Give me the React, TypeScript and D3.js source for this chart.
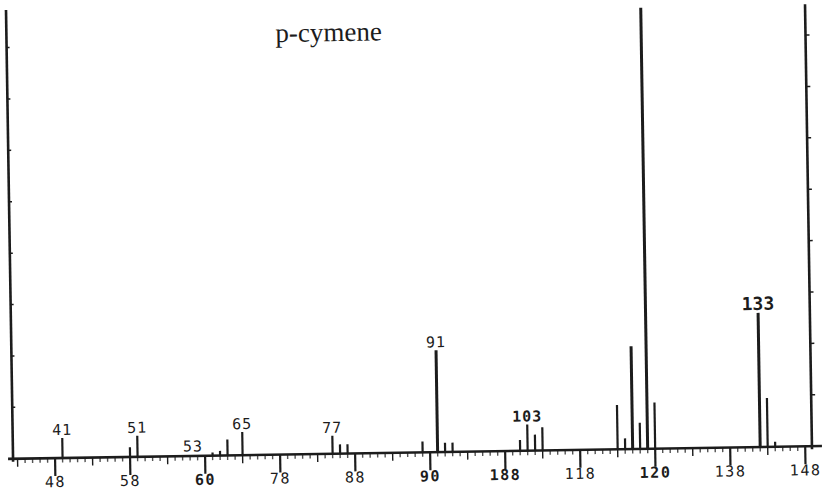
import React from "react";
import * as d3 from "d3";

// ---- data ----
const title = "p-cymene";
const mzValues = [41, 50, 51, 61, 62, 63, 65, 77, 78, 79, 89, 91, 92, 93, 102, 103, 104, 105, 115, 116, 117, 118, 119, 120, 134, 135, 136];
const intensities = [3.9, 1.9, 4.1, 0.6, 0.9, 3.1, 4.5, 3.5, 1.8, 1.8, 2.1, 19.8, 1.8, 1.8, 2.1, 5.1, 3.1, 4.5, 8.6, 2.1, 20.0, 5.1, 85.8, 9.0, 26.1, 9.5, 1.0];

const labelTexts = ["41", "51", "53", "65", "77", "91", "103", "133"];
const labelMz = [41, 51, 58.4, 65, 77, 91, 103, 134];
const labelLevels = [3.9, 4.1, 0.3, 4.5, 3.5, 19.8, 5.1, 26.1];

const tickValues = [40, 50, 60, 70, 80, 90, 100, 110, 120, 130, 140];
const tickLabels = ["48", "58", "60", "78", "88", "90", "188", "118", "120", "138", "148"];
const yTickValues = [10, 20, 30, 40, 50, 60, 70, 80];

const W = 836;
const H = 494;
const INK = "#1c1c1c";

export default function App() {
  const x = d3.scaleLinear().domain([34.4, 140.9]).range([13, 812]);
  const y = d3.scaleLinear().domain([0, 10]).range([452.5, 401.1]);
  const base = y(0);
  const leftTop = y(87.3);
  const rightTop = y(86.0);
  const minorTicks = d3.range(35, 141, 1);
  const boldTicks = new Set([60, 90, 100, 120]);

  return (
    <svg
      width={W}
      height={H}
      viewBox={`0 0 ${W} ${H}`}
      style={{ position: "fixed", left: 0, top: 0, background: "#fff" }}
    >
      <rect x={0} y={0} width={W} height={H} fill="#fff" />
      <g transform={`rotate(-0.9, 412, ${base})`}>
        <text x={282} y={40} fontFamily="'Liberation Serif', 'Times New Roman', serif" fontSize={27} fill={INK}>
          {title}
        </text>
        {/* left axis */}
        <line x1={x(34.4)} x2={x(34.4)} y1={leftTop} y2={base + 3} stroke={INK} strokeWidth={2.6} />
        {yTickValues.map((v) => (
          <line key={"l" + v} x1={x(34.4)} x2={x(34.4) + 3} y1={y(v)} y2={y(v)} stroke={INK} strokeWidth={1.5} />
        ))}
        {/* right axis */}
        <line x1={x(140.9)} x2={x(140.9)} y1={rightTop} y2={base + 3} stroke={INK} strokeWidth={2.6} />
        {yTickValues.map((v) => (
          <line key={"r" + v} x1={x(140.9)} x2={x(140.9) + 4} y1={y(v)} y2={y(v)} stroke={INK} strokeWidth={1.5} />
        ))}
        {/* baseline */}
        <line x1={x(34.4) - 5} x2={x(140.9) + 10} y1={base} y2={base} stroke={INK} strokeWidth={2.6} />
        {minorTicks.map((m) => {
          const len = m % 10 === 0 ? 18 : m % 5 === 0 ? 8 : 4.5;
          return (
            <line
              key={"t" + m}
              x1={x(m)}
              x2={x(m)}
              y1={base}
              y2={base + len}
              stroke={INK}
              strokeWidth={m % 10 === 0 ? 2.2 : 1.4}
              opacity={m % 5 === 0 ? 1 : 0.75}
            />
          );
        })}
        {tickValues.map((v, i) => (
          <text
            key={"tl" + v}
            x={x(v)}
            y={base + 29}
            textAnchor="middle"
            fontFamily="'DejaVu Sans Mono', monospace"
            fontSize={15}
            fontWeight={boldTicks.has(v) ? "bold" : "normal"}
            letterSpacing={1.5}
            fill={INK}
          >
            {tickLabels[i]}
          </text>
        ))}
        {/* peaks */}
        {mzValues.map((m, i) => (
          <line
            key={"p" + m}
            x1={x(m)}
            x2={x(m)}
            y1={base}
            y2={y(intensities[i])}
            stroke={INK}
            strokeWidth={intensities[i] > 15 ? 3 : 2.2}
          />
        ))}
        {labelTexts.map((t, i) => {
          const big = t === "133";
          const bold = t === "103" || t === "133";
          return (
            <text
              key={"pl" + t}
              x={x(labelMz[i])}
              y={y(labelLevels[i]) - 3}
              textAnchor="middle"
              fontFamily="'DejaVu Sans Mono', monospace"
              fontSize={big ? 18 : 15}
              fontWeight={bold ? "bold" : "normal"}
              letterSpacing={big ? 0 : 1}
              fill={INK}
            >
              {t}
            </text>
          );
        })}
      </g>
    </svg>
  );
}
